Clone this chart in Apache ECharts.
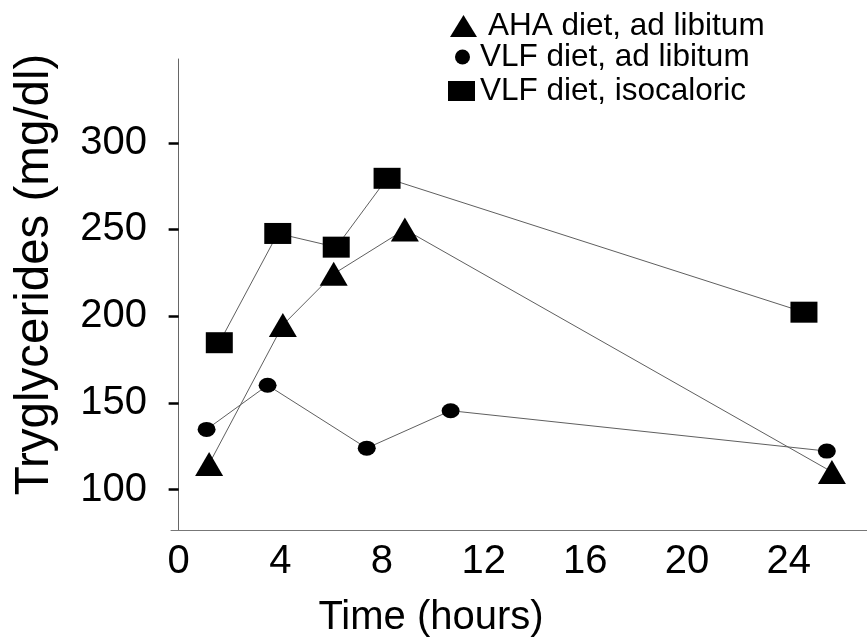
<!DOCTYPE html>
<html>
<head>
<meta charset="utf-8">
<script src="https://cdn.jsdelivr.net/npm/echarts@6/dist/echarts.min.js"></script>
<style>
html,body{margin:0;padding:0;background:#fff;}
#chart{width:867px;height:643px;}
</style>
</head>
<body>
<div id="chart"></div>
<script>
// Data
const seriesNames = ['AHA diet, ad libitum', 'VLF diet, ad libitum', 'VLF diet, isocaloric'];
const timeAHA = [1.2, 4.1, 6.1, 8.9, 25.7];
const tgAHA = [114.8, 194.9, 224.4, 250.0, 110.2];
const timeVLFad = [1.1, 3.5, 7.4, 10.7, 25.5];
const tgVLFad = [134.7, 160.2, 123.9, 145.5, 122.2];
const timeVLFiso = [1.6, 3.9, 6.2, 8.2, 24.6];
const tgVLFiso = [184.7, 247.7, 239.8, 279.5, 202.3];
const xTicks = [0, 4, 8, 12, 16, 20, 24];
const yTicks = [100, 150, 200, 250, 300];

const pairs = (xs, ys) => xs.map((x, i) => [x, ys[i]]);
const FONT = 'Liberation Sans, Arial, sans-serif';

const chart = echarts.init(document.getElementById('chart'), null, {renderer: 'canvas'});

const lineStyle = {color: '#5f5f5f', width: 1};
const mkSeries = (name, data, symbol, size) => ({
  name: name,
  type: 'line',
  data: data,
  symbol: symbol,
  symbolSize: size,
  showSymbol: true,
  lineStyle: lineStyle,
  itemStyle: {color: '#000', borderWidth: 0},
  emphasis: {disabled: true},
  animation: false,
  z: 3
});

const mkLegend = (name, icon, left, top, w, h, padLeft) => ({
  data: [{name: name, icon: icon}],
  left: left,
  top: top,
  orient: 'vertical',
  padding: 0,
  itemWidth: w,
  itemHeight: h,
  selectedMode: false,
  itemStyle: {color: '#000', borderWidth: 0},
  textStyle: {fontFamily: FONT, fontSize: 31.5, color: '#000', padding: [0, 0, 0, padLeft]}
});

chart.setOption({
  backgroundColor: '#fff',
  animation: false,
  textStyle: {fontFamily: FONT},
  grid: {left: 171, right: 0, top: 59, bottom: 106, containLabel: false},
  legend: [
    mkLegend(seriesNames[0], 'triangle', 450, 10, 27, 22, 6),
    mkLegend(seriesNames[1], 'circle', 455, 41, 15, 15, 5),
    mkLegend(seriesNames[2], 'rect', 448, 75, 27, 20, 0)
  ],
  xAxis: {
    type: 'value',
    min: -0.3,
    max: 27.08,
    name: 'Time (hours)',
    nameLocation: 'middle',
    nameGap: 68,
    nameTextStyle: {fontFamily: FONT, fontSize: 40, color: '#000', padding: [0, 176, 0, 0]},
    axisLine: {show: true, lineStyle: {color: '#777', width: 1}},
    axisTick: {show: false},
    splitLine: {show: false},
    axisLabel: {
      customValues: xTicks,
      fontFamily: FONT, fontSize: 40, color: '#000', margin: 12
    }
  },
  yAxis: {
    type: 'value',
    min: 76.7,
    max: 348.3,
    name: 'Tryglycerides (mg/dl)',
    nameLocation: 'middle',
    nameRotate: 90,
    nameGap: 112,
    nameTextStyle: {fontFamily: FONT, fontSize: 47.5, color: '#000', padding: [0, 0, 0, 40]},
    axisLine: {show: true, lineStyle: {color: '#666', width: 1}},
    axisTick: {show: true, customValues: yTicks, length: 10, lineStyle: {color: '#000', width: 2.5}},
    splitLine: {show: false},
    axisLabel: {
      customValues: yTicks,
      fontFamily: FONT, fontSize: 40, color: '#000', margin: 24
    }
  },
  series: [
    mkSeries(seriesNames[0], pairs(timeAHA, tgAHA), 'triangle', [28, 24]),
    mkSeries(seriesNames[1], pairs(timeVLFad, tgVLFad), 'circle', [18, 15]),
    mkSeries(seriesNames[2], pairs(timeVLFiso, tgVLFiso), 'rect', [27, 21])
  ]
});
</script>
</body>
</html>
